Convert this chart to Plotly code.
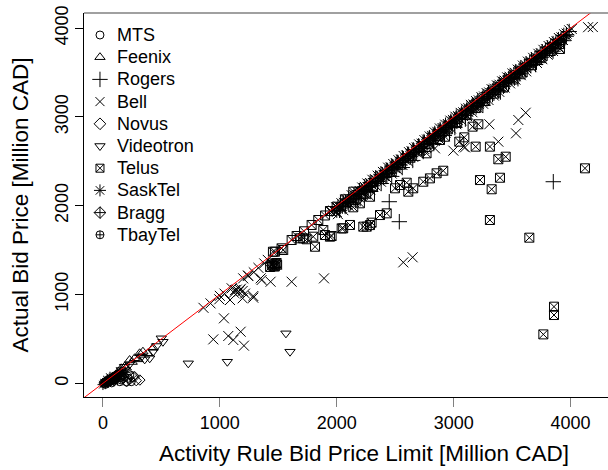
import plotly.graph_objects as go

# Axis ticks
x_ticks = [0, 1000, 2000, 3000, 4000]
y_ticks = [0, 1000, 2000, 3000, 4000]

# (activity rule limit, actual bid) per bidder, million CAD
mts_pts = [(5, 2), (18, 12), (30, 22), (42, 30), (55, 45), (68, 55), (80, 62), (92, 70),
           (105, 85), (118, 95), (130, 100), (145, 18), (157, 37), (172, 56), (200, 18),
           (214, 56), (242, 18), (60, 20), (35, 8), (88, 40), (120, 60), (150, 90),
           (20, -10), (75, 5), (185, 75), (230, 95)]

feenix_pts = [(25, 20), (50, 45), (78, 70), (110, 100), (157, 169), (185, 187), (228, 262),
              (271, 282), (314, 338), (342, 356), (60, 40), (140, 120), (200, 175),
              (250, 240), (300, 270), (385, 338), (428, 400)]

rogers_pts = [(2000, 1950), (2048, 1995), (2095, 2042), (2142, 2088), (2188, 2135),
              (2235, 2180), (2282, 2228), (2330, 2275), (2376, 2322), (2422, 2368),
              (2470, 2415), (2516, 2462), (2562, 2508), (2610, 2555), (2656, 2600),
              (2702, 2648), (2750, 2694), (2796, 2740), (2842, 2788), (2890, 2835),
              (2936, 2880), (2982, 2928), (3030, 2975), (3076, 3020), (3122, 3068),
              (3170, 3115), (3216, 3160), (3262, 3208), (3310, 3255), (3356, 3300),
              (3402, 3348), (3450, 3395), (3496, 3440), (3542, 3488), (3590, 3535),
              (3636, 3580), (3682, 3628), (3730, 3675), (3776, 3720), (3822, 3768),
              (3870, 3815), (3916, 3862), (3962, 3908),
              (2024, 1948), (2072, 1992), (2118, 2040), (2165, 2085), (2212, 2132),
              (2258, 2178), (2306, 2225), (2352, 2272), (2400, 2318), (2446, 2365),
              (2492, 2412), (2540, 2458), (2586, 2505), (2632, 2552), (2680, 2598),
              (2726, 2645), (2772, 2692), (2820, 2738), (2866, 2785), (2912, 2832),
              (2960, 2878), (3006, 2925), (3052, 2972), (3100, 3018), (3146, 3065),
              (3192, 3112), (3240, 3158), (3286, 3205), (3332, 3252), (3380, 3298),
              (3426, 3345), (3472, 3392), (3520, 3438), (3566, 3485), (3612, 3532),
              (3660, 3578), (3706, 3625), (3752, 3672), (3800, 3718), (3846, 3765),
              (3892, 3812), (3940, 3858),
              (2010, 1986), (2056, 2030), (2102, 2078), (2148, 2122), (2194, 2170),
              (2240, 2214), (2286, 2262), (2332, 2306), (2378, 2354), (2424, 2398),
              (2470, 2446), (2516, 2490), (2562, 2538), (2608, 2582), (2654, 2630),
              (2700, 2674), (2746, 2722), (2792, 2766), (2838, 2814), (2884, 2858),
              (2930, 2906), (2976, 2950), (3022, 2998), (3068, 3042), (3114, 3090),
              (3160, 3134), (3206, 3182), (3252, 3226), (3298, 3274), (3344, 3318),
              (3390, 3366), (3436, 3410), (3482, 3458), (3528, 3502), (3574, 3550),
              (3620, 3594), (3666, 3642), (3712, 3686), (3758, 3734), (3804, 3778),
              (3850, 3826), (3896, 3870), (3942, 3918), (3988, 3962),
              (2030, 1990), (2075, 2036), (2120, 2079), (2165, 2126), (2210, 2169),
              (2255, 2216), (2300, 2259), (2345, 2306), (2390, 2349), (2435, 2396),
              (2480, 2439), (2525, 2486), (2570, 2529), (2615, 2576), (2660, 2619),
              (2705, 2666), (2750, 2709), (2795, 2756), (2840, 2799), (2885, 2846),
              (2930, 2889), (2975, 2936), (3020, 2979), (3065, 3026), (3110, 3069),
              (3155, 3116), (3200, 3159), (3245, 3206), (3290, 3249), (3335, 3296),
              (3380, 3339), (3425, 3386), (3470, 3429), (3515, 3476), (3560, 3519),
              (3605, 3566), (3650, 3609), (3695, 3656), (3740, 3699), (3785, 3746),
              (3830, 3789), (3875, 3836), (3920, 3879), (3965, 3926),
              (2200, 2080), (2290, 2160), (2380, 2250), (2470, 2330), (2560, 2430),
              (2650, 2510), (2740, 2610), (2830, 2700), (2920, 2790), (3010, 2880),
              (3100, 2975), (3250, 3130), (3400, 3280), (3550, 3430), (3700, 3590),
              (3850, 3740),
              (3852, 2270), (2535, 1820), (2449, 2045)]

bell_pts = [(1950, 1940), (1995, 1982), (2040, 2028), (2085, 2070), (2128, 2118),
            (2172, 2160), (2218, 2205), (2262, 2250), (2305, 2292), (2350, 2338),
            (2395, 2380), (2440, 2428), (2483, 2470), (2528, 2512), (2572, 2560),
            (2618, 2603), (2662, 2650), (2705, 2690), (2750, 2738), (2795, 2780),
            (2838, 2825), (2882, 2870), (2928, 2912), (2972, 2958), (3015, 3002),
            (3060, 3045), (3105, 3092), (3148, 3135), (3192, 3178), (3238, 3222),
            (3282, 3268), (3325, 3312), (3370, 3355), (3415, 3400), (3458, 3445),
            (3502, 3488), (3548, 3532), (3592, 3578), (3635, 3622), (3680, 3665),
            (3725, 3710), (3768, 3755), (3812, 3798), (3858, 3842), (3900, 3888),
            (3945, 3930), (3988, 3975),
            (1972, 1945), (2018, 1990), (2062, 2032), (2106, 2078), (2150, 2120),
            (2196, 2165), (2240, 2212), (2284, 2255), (2328, 2298), (2372, 2345),
            (2418, 2388), (2462, 2432), (2506, 2478), (2550, 2520), (2595, 2566),
            (2640, 2610), (2684, 2655), (2728, 2698), (2772, 2745), (2816, 2786),
            (2860, 2832), (2905, 2875), (2950, 2920), (2994, 2966), (3038, 3008),
            (3082, 3052), (3126, 3098), (3170, 3140), (3215, 3186), (3260, 3230),
            (3304, 3275), (3348, 3318), (3392, 3362), (3436, 3408), (3480, 3450),
            (3525, 3496), (3570, 3540), (3614, 3585), (3658, 3628), (3702, 3674),
            (3746, 3716), (3790, 3762), (3835, 3805), (3880, 3850), (3922, 3895),
            (3966, 3938), (4010, 3990),
            (1985, 1937), (2029, 1977), (2073, 2026), (2117, 2062), (2161, 2111),
            (2205, 2156), (2249, 2196), (2293, 2247), (2337, 2286), (2381, 2327),
            (2425, 2377), (2469, 2419), (2513, 2461), (2557, 2510), (2601, 2552),
            (2645, 2590), (2689, 2638), (2733, 2687), (2777, 2727), (2821, 2768),
            (2865, 2817), (2909, 2857), (2953, 2904), (2997, 2946), (3041, 2994),
            (3085, 3031), (3129, 3079), (3173, 3125), (3217, 3165), (3261, 3212),
            (3305, 3252), (3349, 3302), (3393, 3343), (3437, 3386), (3481, 3433),
            (3525, 3470), (3569, 3520), (3613, 3561), (3657, 3610), (3701, 3651),
            (3745, 3692), (3789, 3741), (3833, 3782), (3877, 3828), (3921, 3871),
            (3965, 3913),
            (2000, 1930), (2045, 1976), (2090, 2019), (2135, 2066), (2180, 2109),
            (2225, 2156), (2270, 2199), (2315, 2246), (2360, 2289), (2405, 2336),
            (2450, 2379), (2495, 2426), (2540, 2469), (2585, 2516), (2630, 2559),
            (2675, 2606), (2720, 2649), (2765, 2696), (2810, 2739), (2855, 2786),
            (2900, 2829), (2945, 2876), (2990, 2919), (3035, 2966), (3080, 3009),
            (3125, 3056), (3170, 3099), (3215, 3146), (3260, 3189), (3305, 3236),
            (3350, 3279), (3395, 3326), (3440, 3369), (3485, 3416), (3530, 3459),
            (3575, 3506), (3620, 3549), (3665, 3596), (3710, 3639), (3755, 3686),
            (3800, 3729), (3845, 3776), (3890, 3819), (3935, 3866),
            (2010, 1905), (2056, 1950), (2102, 1998), (2148, 2040), (2194, 2090),
            (2240, 2133), (2286, 2180), (2332, 2228), (2378, 2270), (2424, 2320),
            (2470, 2362), (2516, 2410), (2562, 2458), (2608, 2500), (2654, 2550),
            (2700, 2593), (2746, 2640), (2792, 2688), (2838, 2730), (2884, 2780),
            (2930, 2822), (2976, 2870), (3022, 2918), (3068, 2960), (3114, 3010),
            (3160, 3053), (3206, 3100), (3252, 3148), (3298, 3190), (3344, 3240),
            (3390, 3282), (3436, 3330), (3482, 3378), (3528, 3420), (3574, 3470),
            (3620, 3513), (3666, 3560), (3712, 3608), (3758, 3650), (3804, 3700),
            (3850, 3742), (3896, 3790),
            (4150, 4010), (4190, 4012),
            (3616, 3047), (3553, 2965), (3533, 2815), (3305, 2917), (3382, 2721),
            (2997, 2620), (3083, 2665), (2840, 2646), (3097, 2657),
            (2569, 1362), (2649, 1419), (1891, 1182),
            (944, 495), (1035, 732), (1072, 533), (1115, 488), (1178, 581), (1206, 424),
            (995, 946), (1087, 938), (1195, 957), (1286, 964), (1349, 1182), (1434, 1144),
            (1614, 1144), (1243, 1208), (1200, 1182), (1357, 1163), (1286, 983),
            (1101, 1070), (1130, 1050), (1144, 1055), (1160, 1030), (1172, 1050),
            (1195, 1040), (1215, 1010), (1120, 1020), (1180, 1065),
            (1000, 985), (1040, 1010), (1240, 1215), (1290, 1250), (1330, 1300),
            (1380, 1350), (1410, 1390), (920, 900), (860, 850)]

novus_pts = [(202, 18), (257, 75), (316, 37), (285, 30), (230, 45), (271, 75)]

videotron_pts = [(499, 507), (513, 468), (428, 356), (400, 282), (357, 270), (330, 300),
                 (730, 225), (1064, 243), (1565, 563), (1600, 356), (460, 420),
                 (228, 215), (185, 187), (157, 150)]

telus_pts = [(1430, 1310), (1445, 1330), (1460, 1320), (1475, 1345), (1490, 1335),
             (1450, 1350), (1470, 1315), (1485, 1355),
             (1471, 1482), (1542, 1501), (1614, 1614), (1657, 1659), (1720, 1712),
             (1785, 1783), (1842, 1839), (1900, 1890), (1942, 1940), (1999, 1989),
             (2070, 2072), (2141, 2158), (1454, 1482), (1528, 1520),
             (1685, 1633), (1742, 1622), (1799, 1651), (1814, 1538), (1885, 1726),
             (1942, 1651), (1956, 1659), (2055, 1745), (2113, 1783), (2141, 1982),
             (2198, 2027), (2256, 1764), (2284, 2101), (2298, 1809), (2370, 1895),
             (2427, 1914), (2042, 1745), (1713, 1633), (1899, 1670), (2227, 1764),
             (2284, 1782),
             (2498, 2196), (2541, 2233), (2598, 2259), (2612, 2158), (2654, 2196),
             (2740, 2270), (2797, 2308), (2854, 2365), (2911, 2394),
             (2768, 2590), (2883, 2740), (2926, 2777), (3048, 2721), (3091, 2770),
             (3188, 2665), (3211, 2917), (3162, 2890), (3310, 2665), (3382, 2523),
             (3445, 2552), (3225, 2289), (3396, 2315), (3325, 2185), (3310, 1839),
             (3647, 1640), (4123, 2421), (3909, 3765), (3858, 863), (3858, 769),
             (3767, 551),
             (2150, 2065), (2230, 2140), (2310, 2220), (2390, 2300), (2470, 2380),
             (2550, 2462), (2630, 2540), (2710, 2622), (2790, 2700), (2870, 2782),
             (2950, 2860), (3030, 2942), (3110, 3020), (3190, 3100), (3270, 3180),
             (3350, 3262), (3430, 3340), (3510, 3422), (3590, 3500), (3670, 3582),
             (3750, 3662), (3830, 3742), (3910, 3822)]

sasktel_pts = [(10, 5), (25, 15), (40, 30), (55, 40), (70, 50), (85, 65), (100, 75),
               (115, 85), (130, 95), (45, 10), (65, 25), (90, 45), (20, -5), (150, 110),
               (170, 130), (0, -15), (35, 40), (60, 70), (105, 55), (125, 40), (160, 80),
               (190, 120)]

bragg_pts = [(30, 20), (75, 45), (110, 70), (140, 100), (95, 30)]

tbaytel_pts = [(15, 10), (50, 25), (80, 35), (120, 60)]

bidders = ["MTS", "Feenix", "Rogers", "Bell", "Novus", "Videotron", "Telus",
           "SaskTel", "Bragg", "TbayTel"]
points = [mts_pts, feenix_pts, rogers_pts, bell_pts, novus_pts, videotron_pts,
          telus_pts, sasktel_pts, bragg_pts, tbaytel_pts]
symbols = ["circle-open", "triangle-up-open", "cross-thin-open", "x-thin-open",
           "diamond-open", "triangle-down-open", "square-x-open", "asterisk-open",
           "diamond-cross-open", "circle-cross-open"]
sizes = [8, 9, 11, 10, 8, 9, 9, 9, 8, 8]
legend_sizes = [8, 9, 11, 9, 9, 9, 8, 10, 9, 8]

# Telus is drawn first so the other bidders' marks stack over its squares
draw_order = [6, 0, 1, 2, 3, 4, 5, 7, 8, 9]

FONT = "Arial, Liberation Sans, Helvetica, sans-serif"

fig = go.Figure()
for k in draw_order:
    pts = points[k]
    fig.add_trace(go.Scatter(
        x=[p[0] for p in pts], y=[p[1] for p in pts], mode="markers",
        name=bidders[k], showlegend=False,
        marker=dict(symbol=symbols[k], size=sizes[k], color="black",
                    line=dict(color="black", width=1)),
    ))

# 45-degree reference line (bid equals limit)
diag = [-200, 4400]
fig.add_trace(go.Scatter(x=diag, y=diag, mode="lines", showlegend=False,
                         line=dict(color="red", width=1), hoverinfo="skip"))

# Legend drawn on an overlay axis spanning the plot area
lx, tx = 0.0305, 0.0600
y0, dy = (397 - 35) / 384, 22.2 / 384
for i, (name, sym, sz) in enumerate(zip(bidders, symbols, legend_sizes)):
    ly = y0 - i * dy
    fig.add_trace(go.Scatter(
        x=[lx], y=[ly], xaxis="x2", yaxis="y2", mode="markers", showlegend=False,
        hoverinfo="skip",
        marker=dict(symbol=sym, size=sz, color="black",
                    line=dict(color="black", width=1)),
    ))
    fig.add_annotation(x=tx, y=ly, xref="paper", yref="paper", text=name,
                       showarrow=False, xanchor="left", yanchor="middle",
                       font=dict(family=FONT, size=18, color="black"))

# x-axis title, centred on the full plotting region
fig.add_annotation(x=0.534, y=0, xref="paper", yref="paper",
                   text="Activity Rule Bid Price Limit [Million CAD]",
                   showarrow=False, xanchor="center", yanchor="top", yshift=-42,
                   font=dict(family=FONT, size=22.5, color="black"))

fig.update_layout(
    width=608, height=470,
    margin=dict(l=84, r=0, t=13, b=73),
    plot_bgcolor="white", paper_bgcolor="white",
    font=dict(family=FONT, color="black"),
    xaxis=dict(range=[-162, 4320], tickvals=x_ticks, showgrid=False, zeroline=False,
               showline=True, linecolor="black", linewidth=1,
               ticks="outside", ticklen=9, tickwidth=1, tickcolor="#808080",
               tickfont=dict(size=18, color="black")),
    yaxis=dict(range=[-154, 4170], tickvals=y_ticks, showgrid=False, zeroline=False,
               showline=True, linecolor="black", linewidth=1,
               ticks="outside", ticklen=8, tickwidth=1, tickcolor="black",
               tickangle=-90, tickfont=dict(size=18, color="black"),
               title=dict(text="Actual Bid Price [Million CAD]",
                          font=dict(size=22.5, color="black"), standoff=16)),
    xaxis2=dict(overlaying="x", range=[0, 1], visible=False),
    yaxis2=dict(overlaying="y", range=[0, 1], visible=False),
    shapes=[dict(type="line", xref="paper", yref="paper", x0=0, x1=1, y0=1, y1=1,
                 line=dict(color="#808080", width=1.5))],
)

fig.write_html("out.html")
